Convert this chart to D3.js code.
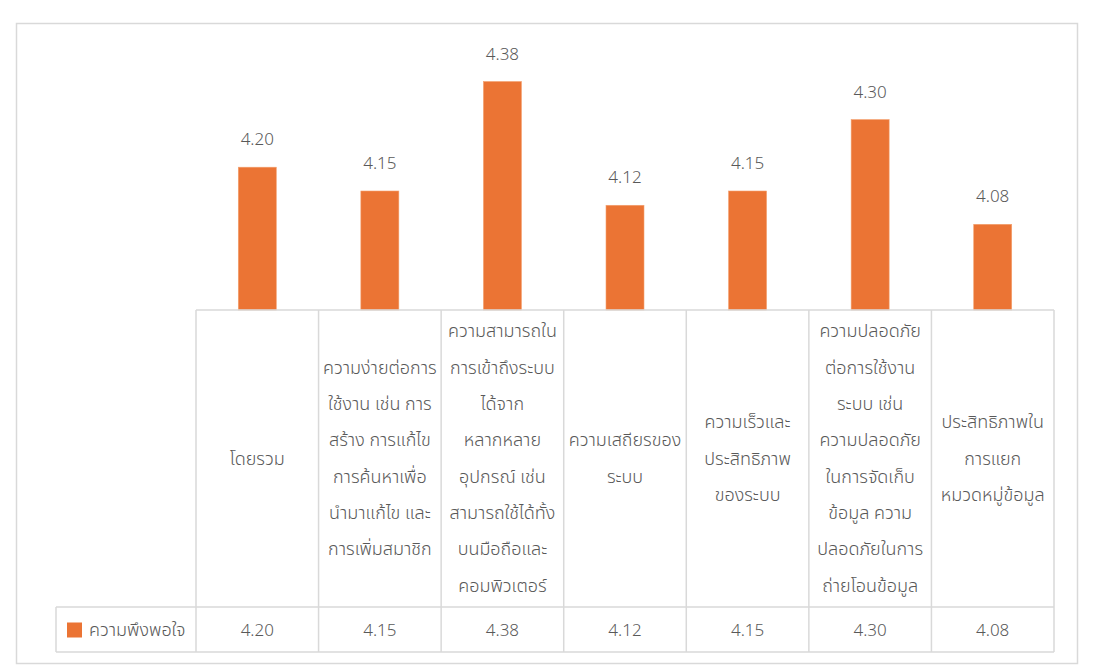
<!DOCTYPE html>
<html><head><meta charset="utf-8">
<script src="https://cdn.jsdelivr.net/npm/d3@7"></script>
<style>
html,body{margin:0;padding:0;background:#fff;}
text{font-family:Tahoma,"Leelawadee UI","Noto Sans Thai","Noto Sans","DejaVu Sans",sans-serif;font-weight:300;}
</style></head>
<body>
<svg id="chart" width="1120" height="672"></svg>
<script>
const categories = [
  ["โดยรวม"],
  ["ความง่ายต่อการ","ใช้งาน เช่น การ","สร้าง การแก้ไข","การค้นหาเพื่อ","นำมาแก้ไข และ","การเพิ่มสมาชิก"],
  ["ความสามารถใน","การเข้าถึงระบบ","ได้จาก","หลากหลาย","อุปกรณ์ เช่น","สามารถใช้ได้ทั้ง","บนมือถือและ","คอมพิวเตอร์"],
  ["ความเสถียรของ","ระบบ"],
  ["ความเร็วและ","ประสิทธิภาพ","ของระบบ"],
  ["ความปลอดภัย","ต่อการใช้งาน","ระบบ เช่น","ความปลอดภัย","ในการจัดเก็บ","ข้อมูล ความ","ปลอดภัยในการ","ถ่ายโอนข้อมูล"],
  ["ประสิทธิภาพใน","การแยก","หมวดหมู่ข้อมูล"]
];
const values = [4.20, 4.15, 4.38, 4.12, 4.15, 4.30, 4.08];
const seriesName = "ความพึงพอใจ";
const yDomain = [3.9, 4.4];

const svg = d3.select("#chart");
const color = "#EB7434", grid = "#d9d9d9", txt = "#595959";

// outer chart border
svg.append("rect").attr("x",16.5).attr("y",23.5).attr("width",1061).attr("height",640)
  .attr("fill","#fff").attr("stroke",grid).attr("stroke-width",1.5);

const left = 196, right = 1054, base = 310, catBottom = 607, rowBottom = 652, legendLeft = 56;
const ids = categories.map((d,i)=>i);
const x = d3.scaleBand().domain(ids).range([left,right]).paddingInner(0.69).paddingOuter(0.345);
const y = d3.scaleLinear().domain(yDomain).range([base, 72]);

// bars
svg.append("g").selectAll("rect").data(values).join("rect")
  .attr("x",(d,i)=>x(i)).attr("width",x.bandwidth())
  .attr("y",d=>y(d)).attr("height",d=>base-y(d))
  .attr("fill",color).attr("stroke","#f3a06e").attr("stroke-width",0.6);

// data labels
svg.append("g").selectAll("text").data(values).join("text")
  .attr("x",(d,i)=>x(i)+x.bandwidth()/2).attr("y",d=>y(d)-22)
  .attr("text-anchor","middle").attr("font-size",17).attr("fill",txt)
  .text(d=>d.toFixed(2));

// data table grid
const step = x.step();
const g = svg.append("g").attr("stroke",grid).attr("stroke-width",1.5).attr("fill","none");
const bounds = ids.map(i=>x(i)-x.paddingOuter()*step).concat([right]);
g.selectAll("line.v").data(bounds).join("line")
  .attr("x1",d=>d).attr("x2",d=>d).attr("y1",base).attr("y2",rowBottom);
g.append("line").attr("x1",legendLeft).attr("x2",legendLeft).attr("y1",catBottom).attr("y2",rowBottom);
g.append("line").attr("x1",left).attr("x2",right).attr("y1",base).attr("y2",base);
g.append("line").attr("x1",legendLeft).attr("x2",right).attr("y1",catBottom).attr("y2",catBottom);
g.append("line").attr("x1",legendLeft).attr("x2",right).attr("y1",rowBottom).attr("y2",rowBottom);

// category labels
const lh = 36.3, midY = (base+catBottom)/2;
const cg = svg.append("g").selectAll("text").data(categories).join("text")
  .attr("text-anchor","middle").attr("font-size",18).attr("fill",txt);
cg.each(function(lines,i){
  const t = d3.select(this);
  const cx = x(i)+x.bandwidth()/2;
  const y0 = midY - (lines.length-1)*lh/2 + 6;
  lines.forEach((l,k)=>t.append("tspan").attr("x",cx).attr("y",y0+k*lh).text(l));
});

// value row
const rowMid = (catBottom+rowBottom)/2;
svg.append("g").selectAll("text").data(values).join("text")
  .attr("x",(d,i)=>x(i)+x.bandwidth()/2).attr("y",rowMid+6)
  .attr("text-anchor","middle").attr("font-size",17).attr("fill",txt)
  .text(d=>d.toFixed(2));

// legend key
svg.append("rect").attr("x",67).attr("y",rowMid-7).attr("width",15).attr("height",15).attr("fill",color);
svg.append("text").attr("x",89).attr("y",rowMid+6).attr("font-size",18).attr("fill",txt).text(seriesName);
</script>
</body></html>
